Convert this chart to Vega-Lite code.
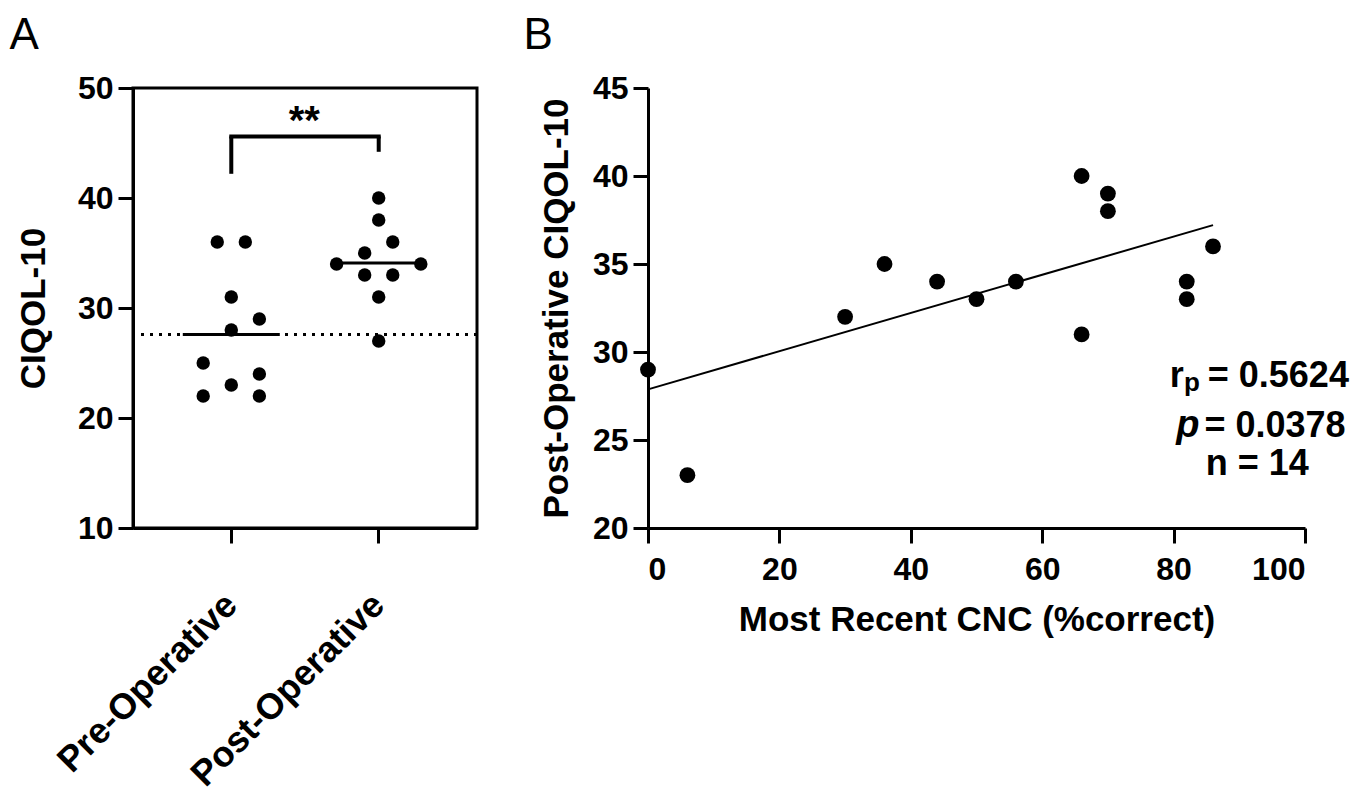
{
  "$schema": "https://vega.github.io/schema/vega-lite/v6.json",
  "background": "white",
  "padding": {"left": 7, "top": 12, "right": 5, "bottom": 5},
  "spacing": 43,
  "datasets": {
    "a": [
      {"group": "Pre-Operative", "score": 36, "slot": -1},
      {"group": "Pre-Operative", "score": 36, "slot": 1},
      {"group": "Pre-Operative", "score": 31, "slot": 0},
      {"group": "Pre-Operative", "score": 29, "slot": 2},
      {"group": "Pre-Operative", "score": 28, "slot": 0},
      {"group": "Pre-Operative", "score": 25, "slot": -2},
      {"group": "Pre-Operative", "score": 24, "slot": 2},
      {"group": "Pre-Operative", "score": 23, "slot": 0},
      {"group": "Pre-Operative", "score": 22, "slot": -2},
      {"group": "Pre-Operative", "score": 22, "slot": 2},
      {"group": "Post-Operative", "score": 40, "slot": 0},
      {"group": "Post-Operative", "score": 38, "slot": 0},
      {"group": "Post-Operative", "score": 36, "slot": 1},
      {"group": "Post-Operative", "score": 35, "slot": -1},
      {"group": "Post-Operative", "score": 34, "slot": -3},
      {"group": "Post-Operative", "score": 34, "slot": 3},
      {"group": "Post-Operative", "score": 33, "slot": -1},
      {"group": "Post-Operative", "score": 33, "slot": 1},
      {"group": "Post-Operative", "score": 31, "slot": 0},
      {"group": "Post-Operative", "score": 27, "slot": 0}
    ],
    "bracket": [{"from": "Pre-Operative", "to": "Post-Operative", "y": 45.6}],
    "bracketLegs": [
      {"group": "Pre-Operative", "y1": 45.6, "y2": 42.2},
      {"group": "Post-Operative", "y1": 45.6, "y2": 44.2}
    ],
    "stars": [{"group": "Pre-Operative", "y": 45.6, "t": "**"}],
    "b": [
      {"cnc": 0, "post": 29},
      {"cnc": 6, "post": 23},
      {"cnc": 30, "post": 32},
      {"cnc": 36, "post": 35},
      {"cnc": 44, "post": 34},
      {"cnc": 50, "post": 33},
      {"cnc": 56, "post": 34},
      {"cnc": 66, "post": 40},
      {"cnc": 66, "post": 31},
      {"cnc": 70, "post": 39},
      {"cnc": 70, "post": 38},
      {"cnc": 82, "post": 34},
      {"cnc": 82, "post": 33},
      {"cnc": 86, "post": 36}
    ],
    "annMain": [
      {"x": 79.4, "y": 28.0, "t": "r"},
      {"x": 85.2, "y": 28.0, "t": "= 0.5624"},
      {"x": 84.7, "y": 25.17, "t": "= 0.0378"},
      {"x": 84.9, "y": 23.0, "t": "n = 14"}
    ],
    "annSub": [{"x": 81.6, "y": 27.8, "t": "p"}],
    "annItal": [{"x": 80.4, "y": 25.17, "t": "p"}]
  },
  "hconcat": [
    {
      "width": 344,
      "height": 440,
      "view": {"stroke": "black", "strokeWidth": 3},
      "title": {"text": "A", "anchor": "start", "frame": "bounds", "dx": -7, "offset": 14},
      "layer": [
        {
          "data": {"name": "a"},
          "transform": [
            {"filter": "datum.group === 'Pre-Operative'"},
            {"aggregate": [{"op": "mean", "field": "score", "as": "mean"}], "groupby": ["group"]}
          ],
          "mark": {"type": "rule", "color": "black", "strokeWidth": 3, "strokeDash": [3, 6]},
          "encoding": {"y": {"field": "mean", "type": "quantitative"}}
        },
        {
          "data": {"name": "a"},
          "mark": {"type": "point", "filled": true, "size": 180, "color": "black", "opacity": 1},
          "encoding": {
            "x": {
              "field": "group", "type": "nominal", "sort": null,
              "scale": {"type": "band", "domain": ["Pre-Operative", "Post-Operative"], "paddingInner": 0.4286, "paddingOuter": 0.381},
              "axis": {"title": null, "labelAngle": -45, "labelAlign": "right", "labelBaseline": "middle", "labelFontSize": 36, "labelPadding": 56, "labelLimit": 0}
            },
            "xOffset": {"field": "slot", "type": "quantitative", "scale": {"domain": [-3, 3]}},
            "y": {
              "field": "score", "type": "quantitative",
              "scale": {"domain": [10, 50], "zero": false, "nice": false},
              "axis": {"title": "CIQOL-10", "values": [10, 20, 30, 40, 50], "titlePadding": 26}
            }
          }
        },
        {
          "data": {"name": "a"},
          "transform": [
            {"filter": "datum.group === 'Pre-Operative'"},
            {"aggregate": [{"op": "mean", "field": "score", "as": "mean"}], "groupby": ["group"]}
          ],
          "mark": {"type": "tick", "color": "black", "size": 97, "thickness": 3, "opacity": 1},
          "encoding": {
            "x": {"field": "group", "type": "nominal", "sort": null},
            "y": {"field": "mean", "type": "quantitative"}
          }
        },
        {
          "data": {"name": "a"},
          "transform": [
            {"filter": "datum.group === 'Post-Operative'"},
            {"aggregate": [{"op": "mean", "field": "score", "as": "mean"}], "groupby": ["group"]}
          ],
          "mark": {"type": "tick", "color": "black", "size": 74, "thickness": 3, "opacity": 1},
          "encoding": {
            "x": {"field": "group", "type": "nominal", "sort": null},
            "y": {"field": "mean", "type": "quantitative"}
          }
        },
        {
          "data": {"name": "bracket"},
          "mark": {"type": "rule", "color": "black", "strokeWidth": 4, "strokeCap": "square"},
          "encoding": {
            "x": {"field": "from", "type": "nominal", "sort": null},
            "x2": {"field": "to"},
            "y": {"field": "y", "type": "quantitative"}
          }
        },
        {
          "data": {"name": "bracketLegs"},
          "mark": {"type": "rule", "color": "black", "strokeWidth": 4},
          "encoding": {
            "x": {"field": "group", "type": "nominal", "sort": null},
            "y": {"field": "y1", "type": "quantitative"},
            "y2": {"field": "y2"}
          }
        },
        {
          "data": {"name": "stars"},
          "mark": {"type": "text", "fontSize": 40, "fontWeight": "bold", "align": "center", "baseline": "alphabetic", "dx": 73, "dy": -2, "color": "black"},
          "encoding": {
            "x": {"field": "group", "type": "nominal", "sort": null},
            "y": {"field": "y", "type": "quantitative"},
            "text": {"field": "t"}
          }
        }
      ]
    },
    {
      "width": 657,
      "height": 440,
      "title": {"text": "B", "anchor": "start", "frame": "bounds", "dx": -16, "offset": 14},
      "layer": [
        {
          "data": {"name": "b"},
          "transform": [{"regression": "post", "on": "cnc"}],
          "mark": {"type": "line", "color": "black", "strokeWidth": 2},
          "encoding": {
            "x": {"field": "cnc", "type": "quantitative"},
            "y": {"field": "post", "type": "quantitative"}
          }
        },
        {
          "data": {"name": "b"},
          "mark": {"type": "point", "filled": true, "size": 250, "color": "black", "opacity": 1},
          "encoding": {
            "x": {
              "field": "cnc", "type": "quantitative",
              "scale": {"domain": [0, 100], "nice": false},
              "axis": {"title": "Most Recent CNC (%correct)", "values": [0, 20, 40, 60, 80, 100], "labelPadding": 11, "titlePadding": 17}
            },
            "y": {
              "field": "post", "type": "quantitative",
              "scale": {"domain": [20, 45], "nice": false, "zero": false},
              "axis": {"title": "Post-Operative CIQOL-10", "values": [20, 25, 30, 35, 40, 45], "titlePadding": 18}
            }
          }
        },
        {
          "data": {"name": "annMain"},
          "mark": {"type": "text", "fontSize": 36, "fontWeight": "bold", "align": "left", "baseline": "alphabetic", "color": "black"},
          "encoding": {
            "x": {"field": "x", "type": "quantitative"},
            "y": {"field": "y", "type": "quantitative"},
            "text": {"field": "t"}
          }
        },
        {
          "data": {"name": "annSub"},
          "mark": {"type": "text", "fontSize": 26, "fontWeight": "bold", "align": "left", "baseline": "alphabetic", "color": "black"},
          "encoding": {
            "x": {"field": "x", "type": "quantitative"},
            "y": {"field": "y", "type": "quantitative"},
            "text": {"field": "t"}
          }
        },
        {
          "data": {"name": "annItal"},
          "mark": {"type": "text", "fontSize": 38, "fontWeight": "bold", "fontStyle": "italic", "align": "left", "baseline": "alphabetic", "color": "black"},
          "encoding": {
            "x": {"field": "x", "type": "quantitative"},
            "y": {"field": "y", "type": "quantitative"},
            "text": {"field": "t"}
          }
        }
      ]
    }
  ],
  "config": {
    "font": "Liberation Sans",
    "view": {"stroke": null},
    "axis": {
      "grid": false,
      "domainColor": "black",
      "domainWidth": 3,
      "tickColor": "black",
      "tickWidth": 3,
      "tickSize": 15,
      "labelFontSize": 32,
      "labelFontWeight": "bold",
      "labelColor": "black",
      "labelPadding": 5,
      "titleFontSize": 35,
      "titleFontWeight": "bold",
      "titleColor": "black"
    },
    "title": {"fontSize": 44, "fontWeight": "normal", "color": "black", "anchor": "start"}
  }
}
